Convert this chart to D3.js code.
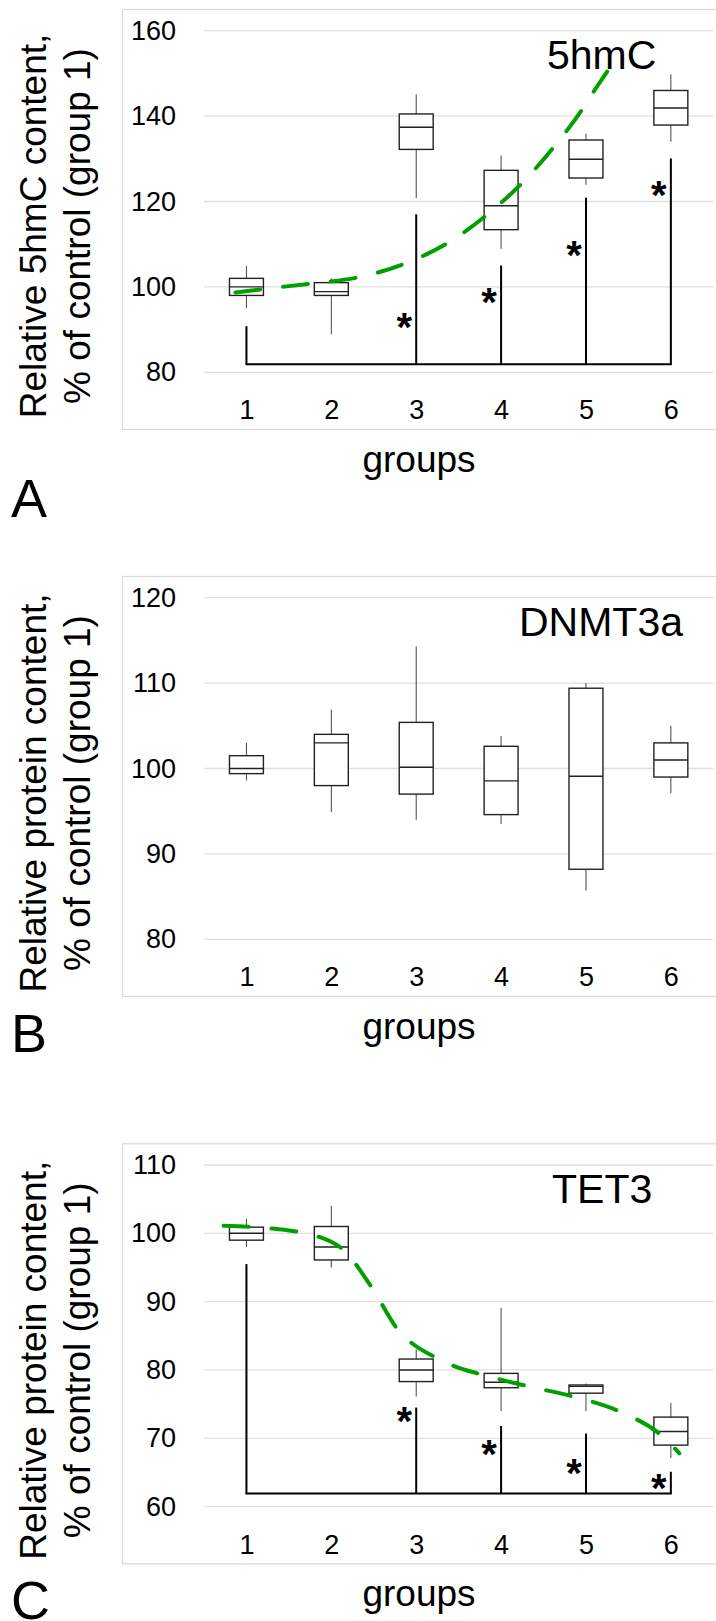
<!DOCTYPE html>
<html>
<head>
<meta charset="utf-8">
<script src="https://cdn.jsdelivr.net/npm/d3@7/dist/d3.min.js"></script>
<style>
body { margin: 0; background: #fff; }
text { font-family: Arial, "Liberation Sans", sans-serif; }
</style>
</head>
<body>
<div id="chart"></div>
<script>
var groups = [1, 2, 3, 4, 5, 6];

// A - 5hmC, box stats per group
var hmcLow = [95.0, 88.9, 120.8, 108.9, 123.9, 134.0];
var hmcQ1 = [98.0, 98.0, 132.2, 113.4, 125.5, 137.9];
var hmcMed = [100.0, 98.9, 137.4, 119.0, 129.9, 141.9];
var hmcQ3 = [102.0, 101.0, 140.5, 127.3, 134.4, 146.0];
var hmcHigh = [104.9, 102.0, 145.1, 130.8, 135.9, 149.8];
var hmcTicks = [80, 100, 120, 140, 160];
// trend curve: [group position, value]
var hmcTrend = [[0.87, 98.7], [1.2, 99.5], [1.77, 100.8], [2.33, 102.3], [2.87, 105.5],
    [3.38, 110.4], [3.84, 117.0], [4.26, 124.6], [4.63, 133.0], [4.97, 142.0],
    [5.09, 145.7], [5.25, 150.4]];
var hmcBracketBase = 81.9;
var hmcBracketGroups = [1, 3, 4, 5, 6];
var hmcBracketTops = [90.8, 117.0, 105.0, 120.9, 130.1];
var hmcStarGroups = [3, 4, 5, 6];
var hmcStars = [92.6, 98.5, 109.4, 123.6];

// B - DNMT3a
var dnmLow = [98.6, 94.9, 94.0, 93.5, 85.7, 97.1];
var dnmQ1 = [99.4, 98.0, 97.0, 94.6, 88.2, 99.0];
var dnmMed = [100.0, 103.0, 100.15, 98.55, 99.1, 101.0];
var dnmQ3 = [101.5, 104.0, 105.4, 102.6, 109.4, 103.0];
var dnmHigh = [103.0, 106.9, 114.3, 103.8, 110.0, 105.0];
var dnmTicks = [80, 90, 100, 110, 120];

// C - TET3
var tetLow = [98.0, 95.0, 76.1, 74.0, 74.0, 67.1];
var tetQ1 = [99.0, 96.1, 78.3, 77.4, 76.6, 69.0];
var tetMed = [100.0, 98.0, 80.0, 78.2, 77.6, 71.0];
var tetQ3 = [100.9, 101.0, 81.6, 79.5, 77.8, 73.1];
var tetHigh = [102.1, 104.0, 83.0, 89.1, 78.0, 75.2];
var tetTicks = [60, 70, 80, 90, 100, 110];
var tetTrend = [[0.73, 101.1], [1.3, 100.7], [1.85, 99.5], [2.14, 97.6], [2.48, 92.0],
    [2.79, 85.8], [2.95, 83.9], [3.22, 81.9], [3.44, 80.6], [3.75, 79.4], [4.32, 77.6],
    [4.85, 76.1], [5.4, 73.9], [5.9, 70.3], [6.1, 67.8]];
var tetBracketBase = 61.9;
var tetBracketGroups = [1, 3, 4, 5, 6];
var tetBracketTops = [95.5, 74.5, 71.8, 70.7, 65.1];
var tetStarGroups = [3, 4, 5, 6];
var tetStars = [73.7, 69.0, 66.1, 64.0];

var WIDTH = 716;
var HEIGHT = 1621;
var BOX_LEFT = 122, PLOT_LEFT = 204, PLOT_RIGHT = 713.3;
var PLOT_TOP = 21.7, PLOT_H = 341.6, PANEL_H = 420;

var svg = d3.select("#chart").append("svg")
    .attr("width", WIDTH)
    .attr("height", HEIGHT);

var panels = [
    { top: 9, letter: "A", letterY: 507.7, name: "5hmC", nameX: 547,
      title: "Relative 5hmC content,", ticks: hmcTicks,
      low: hmcLow, q1: hmcQ1, med: hmcMed, q3: hmcQ3, high: hmcHigh,
      trend: hmcTrend, base: hmcBracketBase, bGroups: hmcBracketGroups, bTops: hmcBracketTops,
      starGroups: hmcStarGroups, stars: hmcStars },
    { top: 576, letter: "B", letterY: 476, name: "DNMT3a", nameX: 519,
      title: "Relative protein content,", ticks: dnmTicks,
      low: dnmLow, q1: dnmQ1, med: dnmMed, q3: dnmQ3, high: dnmHigh },
    { top: 1143.3, letter: "C", letterY: 475.5, name: "TET3", nameX: 552,
      title: "Relative protein content,", ticks: tetTicks,
      low: tetLow, q1: tetQ1, med: tetMed, q3: tetQ3, high: tetHigh,
      trend: tetTrend, base: tetBracketBase, bGroups: tetBracketGroups, bTops: tetBracketTops,
      starGroups: tetStarGroups, stars: tetStars }
];

panels.forEach(drawPanel);

function drawPanel(p) {
    var g = svg.append("g")
        .attr("transform", "translate(0," + p.top + ")");

    var x = d3.scaleLinear()
        .domain([0.5, 6.5])
        .range([PLOT_LEFT, PLOT_RIGHT]);
    var y = d3.scaleLinear()
        .domain(d3.extent(p.ticks))
        .range([PLOT_TOP + PLOT_H, PLOT_TOP]);

    // frame, open on the right like the original crop
    g.append("rect")
        .attr("x", BOX_LEFT + 0.5)
        .attr("y", 0.5)
        .attr("width", 640)
        .attr("height", PANEL_H)
        .attr("fill", "none")
        .attr("stroke", "#d9d9d9")
        .attr("stroke-width", 1.2);

    g.selectAll(".grid")
        .data(p.ticks)
        .enter().append("line")
        .attr("class", "grid")
        .attr("x1", x(0.5))
        .attr("x2", x(6.5))
        .attr("y1", function(d) { return y(d); })
        .attr("y2", function(d) { return y(d); })
        .attr("stroke", "#e0e0e0")
        .attr("stroke-width", 1.3);

    var yAxis = d3.axisLeft(y)
        .tickValues(p.ticks)
        .tickFormat(d3.format("d"))
        .tickSize(0)
        .tickPadding(28);
    var yg = g.append("g")
        .attr("class", "axis y-axis")
        .attr("transform", "translate(" + PLOT_LEFT + ",0)")
        .call(yAxis)
        .attr("font-size", 27)
        .attr("font-family", null);
    yg.select(".domain").remove();

    var xAxis = d3.axisBottom(x)
        .tickValues(groups)
        .tickFormat(d3.format("d"))
        .tickSize(0);
    var xg = g.append("g")
        .attr("class", "axis x-axis")
        .attr("transform", "translate(0,410.3)")
        .call(xAxis)
        .attr("font-size", 27)
        .attr("font-family", null);
    xg.select(".domain").remove();
    xg.selectAll("text").attr("y", 0).attr("dy", null);

    // y title, two lines
    var yt = g.append("g")
        .attr("transform", "translate(46,217) rotate(-90)")
        .attr("font-size", 37)
        .attr("text-anchor", "middle");
    yt.append("text").attr("y", 0).text(p.title);
    yt.append("text").attr("y", 44).text("% of control (group 1)");

    g.append("text")
        .attr("x", 419)
        .attr("y", 462.5)
        .attr("font-size", 37)
        .attr("text-anchor", "middle")
        .text("groups");

    g.append("text")
        .attr("x", 11)
        .attr("y", p.letterY)
        .attr("font-size", 54)
        .text(p.letter);

    g.append("text")
        .attr("x", p.nameX)
        .attr("y", 59.5)
        .attr("font-size", 41)
        .text(p.name);

    // box plots
    var half = 0.2;
    var box = g.selectAll(".box")
        .data(groups)
        .enter().append("g")
        .attr("class", "box");

    box.append("line")
        .attr("x1", function(d) { return x(d); })
        .attr("x2", function(d) { return x(d); })
        .attr("y1", function(d, i) { return y(p.low[i]); })
        .attr("y2", function(d, i) { return y(p.high[i]); })
        .attr("stroke", "#444")
        .attr("stroke-width", 1);

    box.append("rect")
        .attr("x", function(d) { return x(d - half); })
        .attr("width", function(d) { return x(d + half) - x(d - half); })
        .attr("y", function(d, i) { return y(p.q3[i]); })
        .attr("height", function(d, i) { return y(p.q1[i]) - y(p.q3[i]); })
        .attr("fill", "#fff")
        .attr("stroke", "#222")
        .attr("stroke-width", 1.4);

    box.append("line")
        .attr("x1", function(d) { return x(d - half); })
        .attr("x2", function(d) { return x(d + half); })
        .attr("y1", function(d, i) { return y(p.med[i]); })
        .attr("y2", function(d, i) { return y(p.med[i]); })
        .attr("stroke", "#222")
        .attr("stroke-width", 1.4);

    if (!p.bGroups) return;

    // significance bracket against group 1
    var first = p.bGroups[0], last = p.bGroups[p.bGroups.length - 1];
    g.append("line")
        .attr("x1", x(first))
        .attr("x2", x(last))
        .attr("y1", y(p.base))
        .attr("y2", y(p.base))
        .attr("stroke", "#000")
        .attr("stroke-width", 2)
        .attr("stroke-linecap", "square");

    g.selectAll(".tick-bar")
        .data(p.bGroups)
        .enter().append("line")
        .attr("class", "tick-bar")
        .attr("x1", function(d) { return x(d); })
        .attr("x2", function(d) { return x(d); })
        .attr("y1", y(p.base))
        .attr("y2", function(d, i) { return y(p.bTops[i]); })
        .attr("stroke", "#000")
        .attr("stroke-width", 2);

    var starSize = 40;
    g.selectAll(".star")
        .data(p.starGroups)
        .enter().append("text")
        .attr("class", "star")
        .attr("x", function(d) { return x(d) - 12; })
        .attr("y", function(d, i) { return y(p.stars[i]) + starSize * 0.56; })
        .attr("text-anchor", "middle")
        .attr("font-size", starSize)
        .attr("font-weight", "bold")
        .text("*");

    var line = d3.line()
        .x(function(d) { return x(d[0]); })
        .y(function(d) { return y(d[1]); })
        .curve(d3.curveMonotoneX);

    g.append("path")
        .datum(p.trend)
        .attr("d", line)
        .attr("fill", "none")
        .attr("stroke", "#00a000")
        .attr("stroke-width", 4)
        .attr("stroke-linecap", "round")
        .attr("stroke-dasharray", "25,23");
}
</script>
</body>
</html>
